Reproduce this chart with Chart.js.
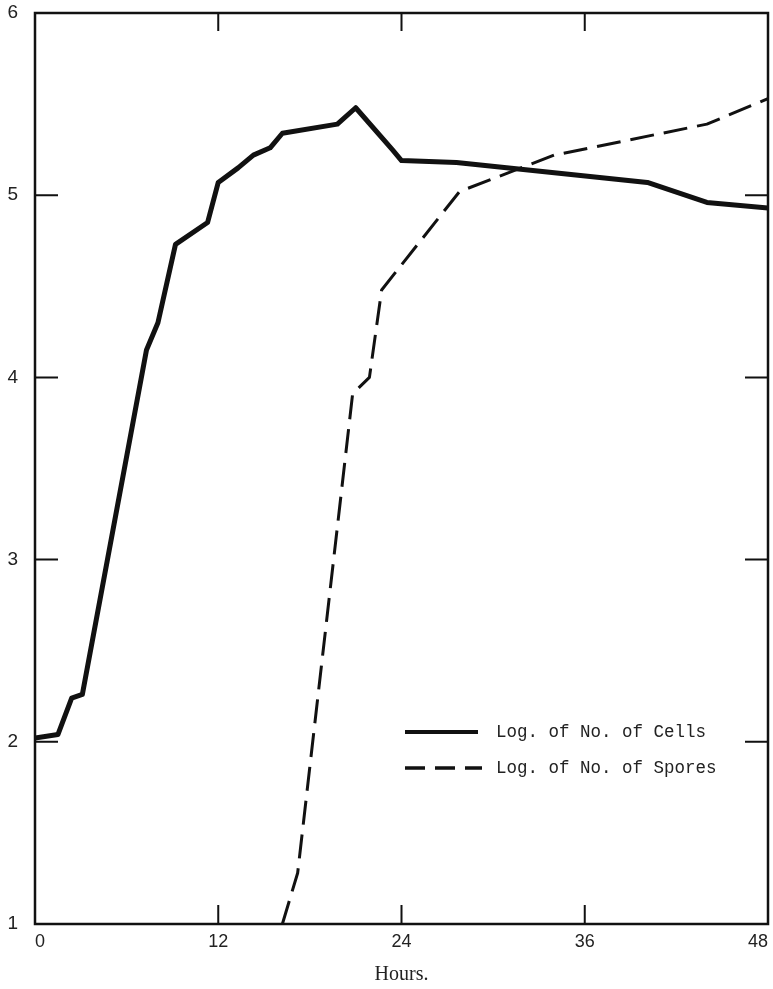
<!DOCTYPE html>
<html>
<head>
<meta charset="utf-8">
<title>Cells and spores</title>
<script src="https://cdn.jsdelivr.net/npm/chart.js@4/dist/chart.umd.min.js"></script>
<style>
    html, body { margin: 0; padding: 0; background: #fff; }
    #wrap { width: 773px; height: 989px; position: relative; }
</style>
</head>
<body>
<div id="wrap"><canvas id="growth-chart"></canvas></div>
<script>
// Hours after inoculation and log counts read for each curve
const cellHours = [0, 1.5, 2.4, 3.1, 7.3, 8.05, 9.2, 11.3, 12.0, 13.3, 14.3, 15.4, 16.2, 19.8, 21.0, 23.4, 24.0, 27.6, 40.1, 44.0, 48];
const cellLogs = [2.02, 2.04, 2.24, 2.26, 4.15, 4.30, 4.73, 4.85, 5.07, 5.15, 5.22, 5.26, 5.34, 5.39, 5.48, 5.25, 5.19, 5.18, 5.07, 4.96, 4.93];

const sporeHours = [16.2, 17.2, 20.8, 21.9, 22.7, 27.8, 34.0, 44.0, 48];
const sporeLogs = [1.0, 1.28, 3.91, 4.0, 4.48, 5.02, 5.22, 5.39, 5.53];

const hourTicks = [0, 12, 24, 36, 48];
const logTicks = [1, 2, 3, 4, 5, 6];

const seriesLabels = ['Log. of No. of Cells', 'Log. of No. of Spores'];

const INK = '#111';

function toPoints(xs, ys) {
    return xs.map((x, i) => ({ x: x, y: ys[i] }));
}

// Box round the plot with short inward ticks on all four sides
const framePlugin = {
    id: 'frame',
    beforeDatasetsDraw(chart) {
        const { ctx, chartArea: a, scales } = chart;
        ctx.save();
        ctx.strokeStyle = INK;
        ctx.lineWidth = 2.5;
        ctx.strokeRect(a.left, a.top, a.right - a.left, a.bottom - a.top);

        ctx.lineWidth = 2;
        hourTicks.slice(1, -1).forEach(h => {
            const px = scales.x.getPixelForValue(h);
            ctx.beginPath();
            ctx.moveTo(px, a.top);
            ctx.lineTo(px, a.top + 18);
            ctx.moveTo(px, a.bottom);
            ctx.lineTo(px, a.bottom - 19);
            ctx.stroke();
        });
        logTicks.slice(1, -1).forEach(v => {
            const py = scales.y.getPixelForValue(v);
            ctx.beginPath();
            ctx.moveTo(a.left, py);
            ctx.lineTo(a.left + 23, py);
            ctx.moveTo(a.right, py);
            ctx.lineTo(a.right - 23, py);
            ctx.stroke();
        });
        ctx.restore();
    }
};

// Legend sitting inside the plot, lower right
const legendPlugin = {
    id: 'insetLegend',
    afterDatasetsDraw(chart) {
        const { ctx, chartArea: a } = chart;
        const x0 = a.left + 370;
        const rows = [a.bottom - 192, a.bottom - 156];
        ctx.save();
        ctx.font = '17.5px "Liberation Mono", monospace';
        ctx.textBaseline = 'middle';
        ctx.fillStyle = '#222';
        chart.data.datasets.forEach((ds, i) => {
            const y = rows[i];
            ctx.beginPath();
            ctx.strokeStyle = ds.borderColor;
            ctx.lineWidth = i === 0 ? 4 : 3.5;
            ctx.setLineDash(i === 0 ? [] : [20, 10]);
            ctx.moveTo(x0, y);
            ctx.lineTo(x0 + (i === 0 ? 73 : 77), y);
            ctx.stroke();
            ctx.setLineDash([]);
            ctx.fillText(ds.label, x0 + 91, y);
        });
        ctx.restore();
    }
};

document.addEventListener('DOMContentLoaded', () => {
    const canvas = document.getElementById('growth-chart');

    new Chart(canvas, {
        type: 'line',
        data: {
            datasets: [
                {
                    label: seriesLabels[0],
                    data: toPoints(cellHours, cellLogs),
                    borderColor: INK,
                    borderWidth: 5,
                    borderJoinStyle: 'round',
                    borderCapStyle: 'round',
                    pointRadius: 0,
                    tension: 0,
                    fill: false
                },
                {
                    label: seriesLabels[1],
                    data: toPoints(sporeHours, sporeLogs),
                    borderColor: INK,
                    borderWidth: 3,
                    borderDash: [24, 10],
                    borderJoinStyle: 'round',
                    pointRadius: 0,
                    tension: 0,
                    fill: false
                }
            ]
        },
        options: {
            responsive: true,
            maintainAspectRatio: false,
            animation: false,
            layout: { padding: { top: 13, right: 5, left: 0, bottom: 0 } },
            plugins: {
                legend: { display: false },
                tooltip: { enabled: false }
            },
            scales: {
                x: {
                    type: 'linear',
                    min: 0,
                    max: 48,
                    afterBuildTicks: s => { s.ticks = hourTicks.map(v => ({ value: v })); },
                    afterFit: s => { s.height = 65; s.paddingLeft = 0; s.paddingRight = 0; },
                    grid: { display: false, drawTicks: false },
                    border: { display: false },
                    ticks: {
                        color: '#222',
                        padding: 7,
                        align: 'inner',
                        maxRotation: 0,
                        font: { family: 'Liberation Sans', size: 18 }
                    },
                    title: {
                        display: true,
                        text: 'Hours.',
                        color: '#222',
                        padding: { top: 12, bottom: 2 },
                        font: { family: 'Liberation Serif', size: 20 }
                    }
                },
                y: {
                    type: 'linear',
                    min: 1,
                    max: 6,
                    afterBuildTicks: s => { s.ticks = logTicks.map(v => ({ value: v })); },
                    afterFit: s => { s.width = 35; s.paddingTop = 0; s.paddingBottom = 0; },
                    grid: { display: false, drawTicks: false },
                    border: { display: false },
                    ticks: {
                        color: '#222',
                        padding: 17,
                        font: { family: 'Liberation Sans', size: 19 }
                    }
                }
            }
        },
        plugins: [framePlugin, legendPlugin]
    });
});
</script>
</body>
</html>
